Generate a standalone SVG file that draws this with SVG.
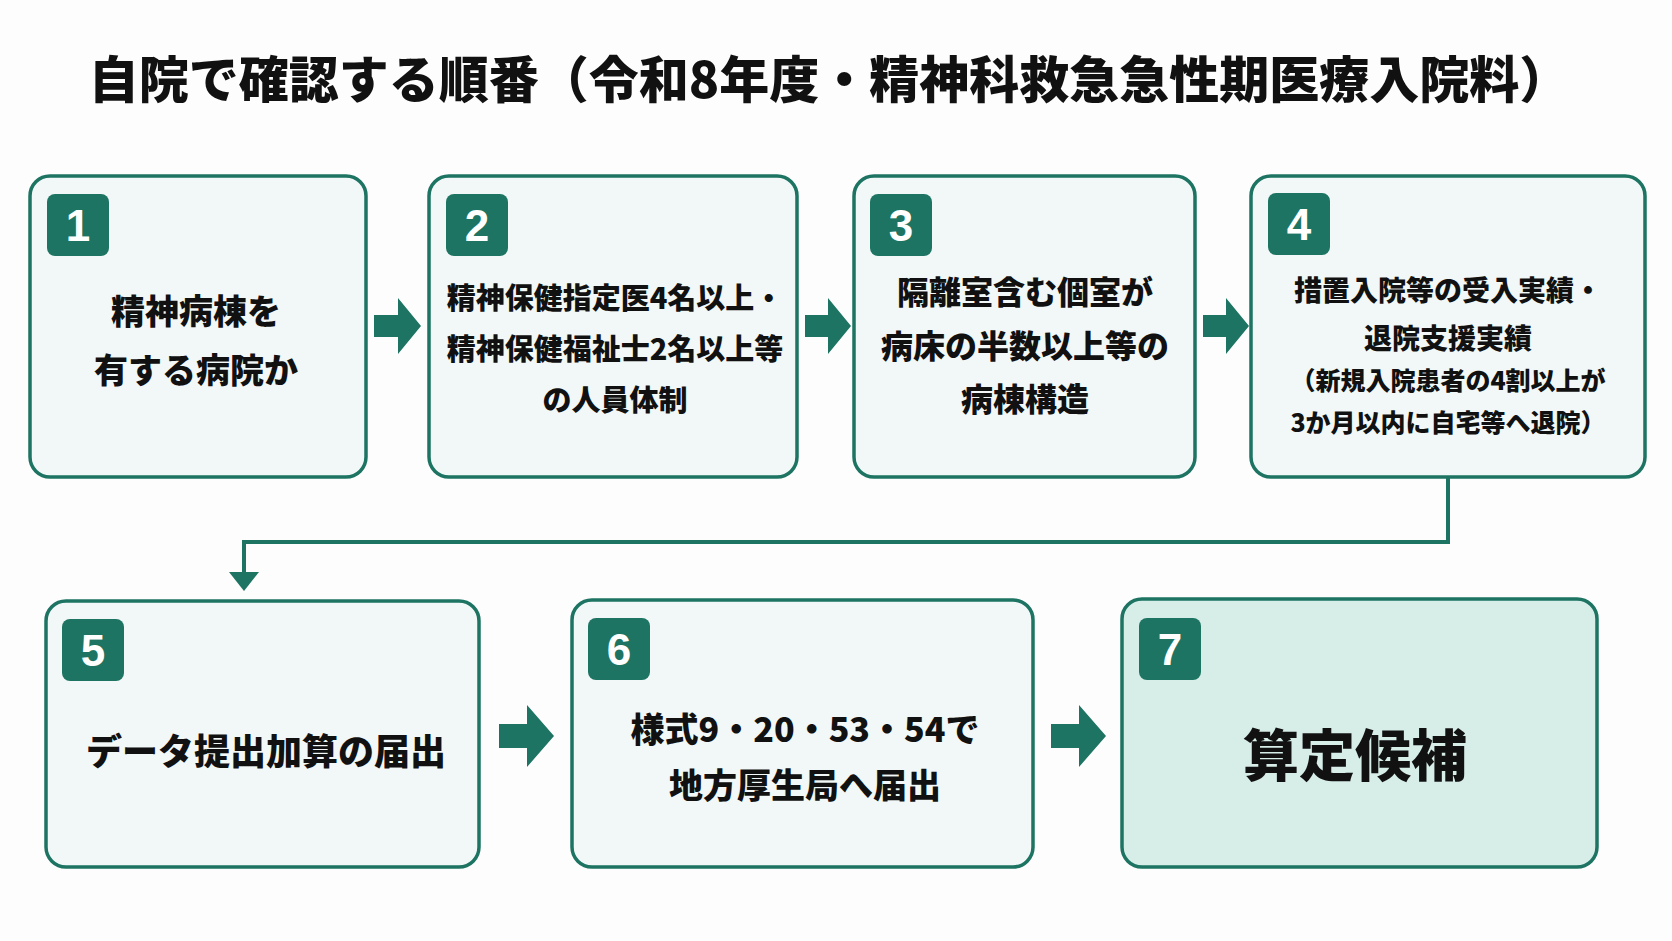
<svg xmlns="http://www.w3.org/2000/svg" width="1672" height="941" viewBox="0 0 1672 941">
<style>
.box{fill:#f1f8f7;stroke:#1d7462;stroke-width:3.5}
.fin{fill:#d6ede8}
.badge{fill:#1d7462}
.bn{font-family:"Liberation Sans",sans-serif;font-weight:bold;font-size:44px;fill:#fff;text-anchor:middle}
.t{font-family:"Noto Sans CJK JP",sans-serif;font-weight:900;fill:#111;text-anchor:middle}
.arr{fill:#1d7462}
</style>
<defs><marker id="ah" markerWidth="10" markerHeight="10" refX="5" refY="9" orient="auto" markerUnits="userSpaceOnUse"/></defs>
<rect width="1672" height="941" fill="#fdfdfd"/>
<text x="829" y="98" class="t" font-size="50">自院で確認する順番（令和8年度・精神科救急急性期医療入院料）</text>
<g id="connectors">
<polygon class="arr" points="374,315 398,315 398,298 421,326 398,354 398,337 374,337"/>
<polygon class="arr" points="805,315 828,315 828,298 851,326 828,354 828,337 805,337"/>
<polygon class="arr" points="1203,315 1226,315 1226,298 1249,326 1226,354 1226,337 1203,337"/>
<polyline points="1448,478 1448,542 244,542 244,575" fill="none" stroke="#1d7462" stroke-width="4"/>
<polygon class="arr" points="229,572 259,572 244,591"/>
<polygon class="arr" points="499,724 527,724 527,705 554,736 527,767 527,748 499,748"/>
<polygon class="arr" points="1051,724 1079,724 1079,705 1106,736 1079,767 1079,748 1051,748"/>
</g>
<g id="n1"><rect class="box" x="30" y="176" width="336" height="301" rx="20"/><rect class="badge" x="47" y="194" width="62" height="62" rx="8"/><text class="bn" x="78" y="241">1</text>
<text class="t" font-size="34" x="196" y="324">精神病棟を</text><text class="t" font-size="34" x="196" y="383">有する病院か</text></g>
<g id="n2"><rect class="box" x="429" y="176" width="368" height="301" rx="20"/><rect class="badge" x="446" y="194" width="62" height="62" rx="8"/><text class="bn" x="477" y="241">2</text>
<text class="t" font-size="29" x="615" y="309">精神保健指定医4名以上・</text><text class="t" font-size="29" x="615" y="360">精神保健福祉士2名以上等</text><text class="t" font-size="29" x="615" y="411">の人員体制</text></g>
<g id="n3"><rect class="box" x="854" y="176" width="341" height="301" rx="20"/><rect class="badge" x="870" y="194" width="62" height="62" rx="8"/><text class="bn" x="901" y="241">3</text>
<text class="t" font-size="32" x="1025" y="304">隔離室含む個室が</text><text class="t" font-size="32" x="1025" y="358">病床の半数以上等の</text><text class="t" font-size="32" x="1025" y="411">病棟構造</text></g>
<g id="n4"><rect class="box" x="1251" y="176" width="394" height="301" rx="20"/><rect class="badge" x="1268" y="193" width="62" height="62" rx="8"/><text class="bn" x="1299" y="240">4</text>
<text class="t" font-size="28" x="1448" y="301">措置入院等の受入実績・</text><text class="t" font-size="28" x="1448" y="349">退院支援実績</text><text class="t" font-size="25" x="1448" y="390">（新規入院患者の4割以上が</text><text class="t" font-size="25" x="1448" y="432">3か月以内に自宅等へ退院）</text></g>
<g id="n5"><rect class="box" x="46" y="601" width="433" height="266" rx="20"/><rect class="badge" x="62" y="619" width="62" height="62" rx="8"/><text class="bn" x="93" y="666">5</text>
<text class="t" font-size="36" x="266" y="765">データ提出加算の届出</text></g>
<g id="n6"><rect class="box" x="572" y="600" width="461" height="267" rx="20"/><rect class="badge" x="588" y="618" width="62" height="62" rx="8"/><text class="bn" x="619" y="665">6</text>
<text class="t" font-size="34" x="805" y="742">様式9・20・53・54で</text><text class="t" font-size="34" x="805" y="798">地方厚生局へ届出</text></g>
<g id="n7"><rect class="box fin" x="1122" y="599" width="475" height="268" rx="20"/><rect class="badge" x="1139" y="618" width="62" height="62" rx="8"/><text class="bn" x="1170" y="665">7</text>
<text class="t" font-size="56" x="1355" y="776">算定候補</text></g>
</svg>
